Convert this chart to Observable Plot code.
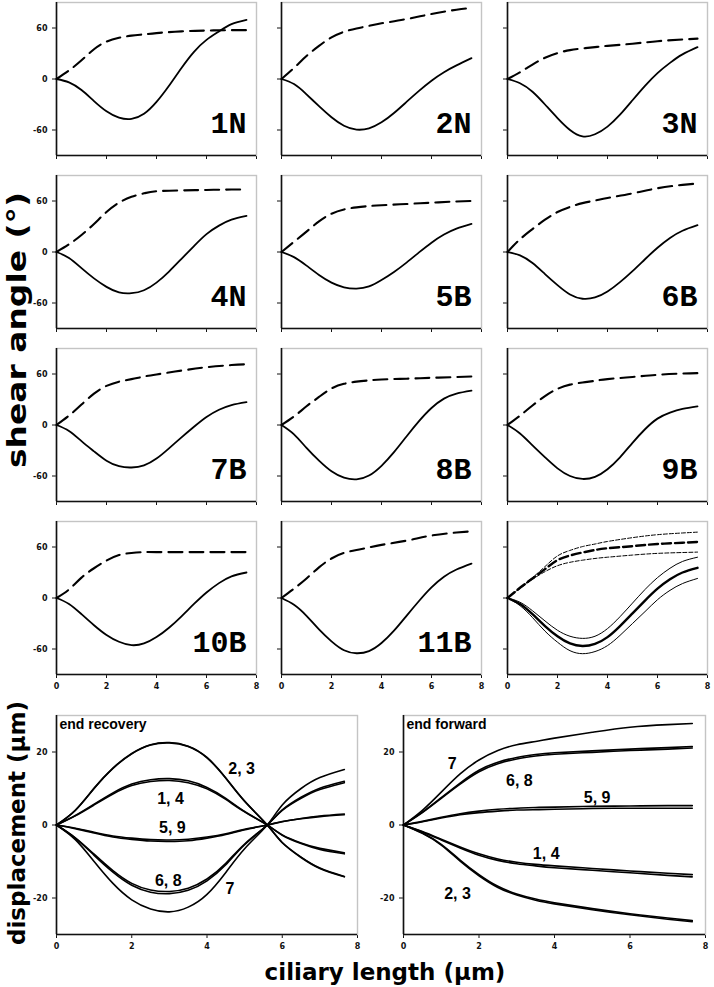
<!DOCTYPE html>
<html>
<head>
<meta charset="utf-8">
<script src="https://cdn.jsdelivr.net/npm/d3@7"></script>
<script src="https://cdn.jsdelivr.net/npm/@observablehq/plot@0.6"></script>
<style>
html, body { margin: 0; padding: 0; background: #fff; overflow: hidden; }
#root { position: relative; width: 714px; height: 987px; background: #fff; }
#root svg { position: absolute; }
</style>
</head>
<body>
<div id="root"></div>
<script>
// ---------- DATA ----------
// shear-angle panels: x grid (µm) for the solid (angle) and dashed curves
const shearX = [0, 0.5, 1, 1.5, 2, 2.5, 3, 3.5, 4, 4.5, 5, 5.5, 6, 6.5, 7, 7.6];
const dashX  = [0, 0.5, 1, 1.5, 2, 2.5, 3, 3.5, 4, 5, 6, 7, 7.6];
const panelNames = ["1N", "2N", "3N", "4N", "5B", "6B", "7B", "8B", "9B", "10B", "11B"];

const solid1N  = [0, -4, -13, -26, -38, -45.5, -47, -41, -27, -8, 13, 32, 46, 56, 64.5, 69.5];
const solid2N  = [0, -6, -18, -32, -45, -55, -59.5, -58, -51, -40, -27, -14, -2, 8, 16, 24.5];
const solid3N  = [0, -5, -15, -30, -46, -60, -67.5, -65, -56, -42, -25, -8, 7, 19, 29, 37.5];
const solid4N  = [0, -7, -19, -31, -41, -47.5, -48.5, -45, -36, -23, -8, 7, 21, 31, 38, 42.5];
const solid5B  = [0, -6, -16, -27, -36, -41.5, -43, -40.5, -33, -23.5, -12.5, -0.5, 11, 20.5, 27.5, 33];
const solid6B  = [0, -4, -13, -26, -39, -50, -55, -53.5, -46.5, -35.5, -22.5, -8.5, 5, 16.5, 25, 31.5];
const solid7B  = [0, -7, -19, -31, -42, -48.5, -50, -47.5, -39.5, -27.5, -14.5, -2, 9.5, 18, 23.5, 27];
const solid8B  = [0, -11, -27, -42, -54.5, -62, -64, -59.5, -48, -32, -13.5, 4.5, 20, 31, 37, 40.5];
const solid9B  = [0, -10, -24, -38, -51, -60, -63.5, -61, -52, -38, -21, -5, 7.5, 14.5, 19, 22];
const solid10B = [0, -7, -19, -32, -43.5, -51.5, -55.5, -53.5, -46, -35, -21.5, -7, 6.5, 17.5, 25.5, 30];
const solid11B = [0, -8, -21, -37, -51, -61.5, -65, -62.5, -53, -38.5, -21, -3.5, 12.5, 25, 33.5, 40.5];

const dash1N  = [0, 10, 22, 35, 44, 48.5, 51, 52.5, 54, 56, 57, 57.5, 57.5];
const dash2N  = [0, 13, 27, 39, 49, 55.5, 59.5, 62.5, 65.5, 70.5, 76.5, 81.5, 83.5];
const dash3N  = [0, 8, 17, 25, 30.5, 34, 36, 37.5, 39, 41.5, 44.5, 46.5, 47.5];
const dash4N  = [0, 9, 20, 33, 47, 58, 65, 69, 71.5, 72.5, 73, 73.5, 73.5];
const dash5B  = [0, 12, 24, 36, 45, 50, 52.5, 54, 55, 56.5, 58, 59.5, 60];
const dash6B  = [0, 15, 27, 38, 47, 53, 57.5, 60.5, 63.5, 69, 75, 79, 80.5];
const dash7B  = [0, 11, 24, 37, 46, 51, 54, 57, 59.5, 64, 68, 70.5, 71.5];
const dash8B  = [0, 10, 22, 33, 43, 48.5, 51, 52.5, 53.5, 54.5, 55.5, 56.5, 57];
const dash9B  = [0, 11, 23, 34, 42.5, 47.5, 50, 52, 54, 56.5, 59, 60.5, 61];
const dash10B = [0, 10, 24, 35, 44, 50.5, 53, 54, 54, 54, 54, 54, 54];
const dash11B = [0, 11, 23, 36, 46.5, 53, 56.5, 59.5, 62.5, 67.5, 73.5, 77, 78.5];

// summary panel (mean ± SD)
const meanSolid = [0, -7, -19, -33, -45, -53.5, -56.5, -54, -46, -33, -18, -3, 11, 22, 30, 35.5];
const hiSolid   = [0, -5, -15, -27, -38, -45, -47.5, -45, -36, -22, -6, 10, 24, 35, 43, 48];
const loSolid   = [0, -9, -23, -39, -52, -62, -65.5, -63, -56, -44, -30, -16, -2, 9, 17, 23];
const meanDash  = [0, 12, 23, 34, 44.5, 50, 53.5, 56.5, 58.5, 61, 63.5, 65, 66];
const hiDash    = [0, 12, 24, 37, 49.5, 56, 60.5, 63.5, 66.5, 71, 74.5, 76.5, 77.5];
const loDash    = [0, 11, 22, 31, 38, 42, 44.5, 46.5, 48, 50.5, 52.5, 53.5, 54];

// displacement, end recovery
const recX = [0, 0.5, 1, 1.5, 2, 2.5, 3, 3.5, 4, 4.5, 5, 5.6, 6, 6.5, 7, 7.65];
const rec1 = [0, 2.5, 5.5, 8.5, 10.8, 11.9, 12.2, 11.6, 9.9, 7, 3.6, 0, -2.7, -4.9, -6.4, -7.6];
const rec4 = [0, 2.6, 5.7, 8.8, 11.2, 12.4, 12.7, 12.1, 10.3, 7.3, 3.7, 0, -2.8, -5.1, -6.7, -7.9];
const rec2 = [0, 4, 10, 15.5, 19.5, 21.9, 22.5, 21.5, 18.4, 12.8, 6.5, 0, -4.8, -8.8, -11.8, -14.1];
const rec3 = [0, 4.05, 10.1, 15.6, 19.6, 22, 22.6, 21.6, 18.5, 12.9, 6.55, 0, -4.85, -8.9, -11.9, -14.2];
const rec5 = [0, -0.9, -2, -3, -3.6, -4, -4.1, -3.9, -3.3, -2.4, -1.2, 0, 0.9, 1.7, 2.3, 2.8];
const rec9 = [0, -1, -2.2, -3.3, -3.95, -4.4, -4.5, -4.3, -3.6, -2.6, -1.3, 0, 0.95, 1.8, 2.45, 3];
const rec6 = [0, -3.5, -8, -12.5, -16, -17.8, -18.2, -17.3, -14.8, -10.5, -5.2, 0, 4, 7.3, 9.7, 11.6];
const rec8 = [0, -3.6, -8.3, -12.9, -16.5, -18.4, -18.8, -17.9, -15.3, -10.9, -5.4, 0, 4.15, 7.6, 10.1, 12];
const rec7 = [0, -4, -10, -16, -20.5, -23, -23.8, -22.5, -19, -13, -6.5, 0, 5.5, 10, 13, 15.2];

// displacement, end forward
const fwdX = [0, 0.5, 1, 1.5, 2, 2.5, 3, 3.5, 4, 5, 6, 7, 7.65];
const fwd7 = [0, 4, 9, 14, 17.8, 20.4, 22, 22.9, 23.8, 25.4, 26.8, 27.5, 27.8];
const fwd6 = [0, 3.5, 7.5, 11.5, 15, 17.2, 18.5, 19.3, 19.8, 20.3, 20.8, 21.2, 21.5];
const fwd8 = [0, 3.4, 7.3, 11.2, 14.6, 16.8, 18.1, 18.9, 19.4, 19.9, 20.4, 20.8, 21.1];
const fwd5 = [0, 1, 2.1, 3.1, 3.8, 4.3, 4.6, 4.8, 4.9, 5.1, 5.2, 5.3, 5.3];
const fwd9 = [0, 0.9, 1.9, 2.8, 3.4, 3.8, 4.1, 4.2, 4.3, 4.5, 4.6, 4.6, 4.6];
const fwd1 = [0, -1.8, -3.9, -6, -7.9, -9.3, -10.2, -10.8, -11.2, -11.9, -12.6, -13.2, -13.6];
const fwd4 = [0, -1.9, -4.1, -6.3, -8.3, -9.7, -10.6, -11.2, -11.7, -12.4, -13.1, -13.8, -14.2];
const fwd2 = [0, -2.2, -5.3, -9.6, -13.6, -16.8, -18.9, -20.3, -21.3, -22.9, -24.3, -25.5, -26.2];
const fwd3 = [0, -2.3, -5.5, -9.9, -13.9, -17.1, -19.2, -20.6, -21.6, -23.2, -24.6, -25.8, -26.5];

// annotation labels (data coordinates)
const recLabels = [
  {t: "2, 3", x: 4.92, y: 15.3},
  {t: "1, 4", x: 3.03, y: 7.1},
  {t: "5, 9", x: 3.08, y: -0.8},
  {t: "6, 8", x: 2.97, y: -15.3},
  {t: "7",    x: 4.61, y: -17.5}
];
const fwdLabels = [
  {t: "7",    x: 1.29, y: 16.7},
  {t: "6, 8", x: 3.07, y: 12.2},
  {t: "5, 9", x: 5.13, y: 7.3},
  {t: "1, 4", x: 3.78, y: -7.9},
  {t: "2, 3", x: 1.43, y: -18.9}
];

const xTicks = [0, 2, 4, 6, 8];
const shearTicks = [-60, 0, 60];
const dispTicks = [-20, 0, 20];

// ---------- BUILD ----------
const solids = [solid1N, solid2N, solid3N, solid4N, solid5B, solid6B, solid7B, solid8B, solid9B, solid10B, solid11B];
const dashes = [dash1N, dash2N, dash3N, dash4N, dash5B, dash6B, dash7B, dash8B, dash9B, dash10B, dash11B];
const pts = (xs, ys, key) => xs.map((x, k) => ({x, y: ys[k], key}));

const root = document.getElementById("root");
function place(svg, left, top) {
  svg.style.position = "absolute";
  svg.style.left = left + "px";
  svg.style.top = top + "px";
  root.appendChild(svg);
}

const baseStyle = {
  background: "transparent",
  overflow: "visible",
  fontFamily: "'DejaVu Sans', sans-serif",
  fontSize: "8px",
  fontWeight: "bold",
  color: "#111"
};

const CURVE = "natural";
const colAxis = [56, 281, 507];
const rowTop = [2, 175, 348, 521];
const PW = 200, PH = 153, ML = 40, MR = 6, MT = 4, MB = 18;

for (let i = 0; i < 12; i++) {
  const col = i % 3, row = Math.floor(i / 3);
  const marks = [
    Plot.frame({stroke: "#c4c4c4", strokeWidth: 1.4}),
    Plot.ruleX([0], {stroke: "#111", strokeWidth: 1.6}),
    Plot.ruleY([-90], {stroke: "#111", strokeWidth: 1.6})
  ];
  if (i < 11) {
    marks.push(
      Plot.line(pts(shearX, solids[i], "s"), {x: "x", y: "y", curve: CURVE, stroke: "#000", strokeWidth: 1.8}),
      Plot.line(pts(dashX, dashes[i], "d"), {x: "x", y: "y", curve: CURVE, stroke: "#000", strokeWidth: 2.1, strokeDasharray: "14,7"}),
      Plot.text([panelNames[i]], {
        frameAnchor: "bottom-right", dx: -10, dy: -23, textAnchor: "end", lineAnchor: "bottom",
        fontFamily: "'Liberation Mono', monospace", fontWeight: "bold", fontSize: 30, fill: "#000"
      })
    );
  } else {
    marks.push(
      Plot.line(pts(shearX, hiSolid, "hi"), {x: "x", y: "y", curve: CURVE, stroke: "#000", strokeWidth: 1}),
      Plot.line(pts(shearX, loSolid, "lo"), {x: "x", y: "y", curve: CURVE, stroke: "#000", strokeWidth: 1}),
      Plot.line(pts(shearX, meanSolid, "m"), {x: "x", y: "y", curve: CURVE, stroke: "#000", strokeWidth: 2.4}),
      Plot.line(pts(dashX, hiDash, "hi"), {x: "x", y: "y", curve: CURVE, stroke: "#000", strokeWidth: 1, strokeDasharray: "4,2"}),
      Plot.line(pts(dashX, loDash, "lo"), {x: "x", y: "y", curve: CURVE, stroke: "#000", strokeWidth: 1, strokeDasharray: "4,2"}),
      Plot.line(pts(dashX, meanDash, "m"), {x: "x", y: "y", curve: CURVE, stroke: "#000", strokeWidth: 2.4, strokeDasharray: "9,4"})
    );
  }
  const svg = Plot.plot({
    width: ML + PW + MR,
    height: MT + PH + MB,
    marginLeft: ML, marginRight: MR, marginTop: MT, marginBottom: MB,
    style: baseStyle,
    x: {domain: [0, 8], ticks: xTicks, tickSize: 4, tickFormat: row === 3 ? (d => String(d)) : (() => ""), label: null},
    y: {domain: [-90, 90], ticks: shearTicks, tickSize: 4, tickFormat: col === 0 ? (d => String(d)) : (() => ""), label: null},
    marks
  });
  place(svg, colAxis[col] - ML, rowTop[row] - MT);
}

// displacement panels
const recSeries = [["1", rec1], ["4", rec4], ["2", rec2], ["3", rec3], ["5", rec5], ["9", rec9], ["6", rec6], ["8", rec8], ["7", rec7]];
const fwdSeries = [["7", fwd7], ["6", fwd6], ["8", fwd8], ["5", fwd5], ["9", fwd9], ["1", fwd1], ["4", fwd4], ["2", fwd2], ["3", fwd3]];

function dispPanel(xs, series, labels, title, axisLeft, plotW) {
  const data = series.flatMap(([k, ys]) => pts(xs, ys, k));
  const DML = 40, DMR = 6, DMT = 4, DMB = 20, DPH = 219;
  const svg = Plot.plot({
    width: DML + plotW + DMR,
    height: DMT + DPH + DMB,
    marginLeft: DML, marginRight: DMR, marginTop: DMT, marginBottom: DMB,
    style: baseStyle,
    x: {domain: [0, 8], ticks: xTicks, tickSize: 4, tickFormat: d => String(d), label: null},
    y: {domain: [-30, 30], ticks: dispTicks, tickSize: 4, tickFormat: d => String(d), label: null},
    marks: [
      Plot.frame({stroke: "#c4c4c4", strokeWidth: 1.4}),
      Plot.ruleX([0], {stroke: "#111", strokeWidth: 1.6}),
      Plot.ruleY([-30], {stroke: "#111", strokeWidth: 1.6}),
      Plot.line(data, {x: "x", y: "y", z: "key", curve: CURVE, stroke: "#000", strokeWidth: 1.6}),
      Plot.text(labels, {x: "x", y: "y", text: "t", fontFamily: "'Liberation Sans', Arial, sans-serif", fontWeight: "bold", fontSize: 16, fill: "#000"}),
      Plot.text([title], {frameAnchor: "top-left", dx: 3, dy: 4, textAnchor: "start", lineAnchor: "top",
        fontFamily: "'Liberation Sans', Arial, sans-serif", fontWeight: "bold", fontSize: 14, fill: "#000"})
    ]
  });
  place(svg, axisLeft - DML, 715 - DMT);
}
dispPanel(recX, recSeries, recLabels, "end recovery", 56, 301);
dispPanel(fwdX, fwdSeries, fwdLabels, "end forward", 403, 302);

// shared axis titles
const ov = d3.create("svg").attr("width", 714).attr("height", 987)
  .style("left", "0px").style("top", "0px").style("pointer-events", "none");
const tFont = "'DejaVu Sans', sans-serif";
ov.append("text").attr("transform", "translate(25.5,330) rotate(-90)")
  .attr("text-anchor", "middle").attr("font-family", tFont).attr("font-weight", "bold")
  .attr("font-size", 26).attr("textLength", 276).attr("lengthAdjust", "spacingAndGlyphs")
  .text("shear angle (°)");
ov.append("text").attr("transform", "translate(25,823) rotate(-90)")
  .attr("text-anchor", "middle").attr("font-family", tFont).attr("font-weight", "bold")
  .attr("font-size", 23).text("displacement (µm)");
ov.append("text").attr("x", 385).attr("y", 980)
  .attr("text-anchor", "middle").attr("font-family", tFont).attr("font-weight", "bold")
  .attr("font-size", 23).text("ciliary length (µm)");
root.appendChild(ov.node());
</script>
</body>
</html>
